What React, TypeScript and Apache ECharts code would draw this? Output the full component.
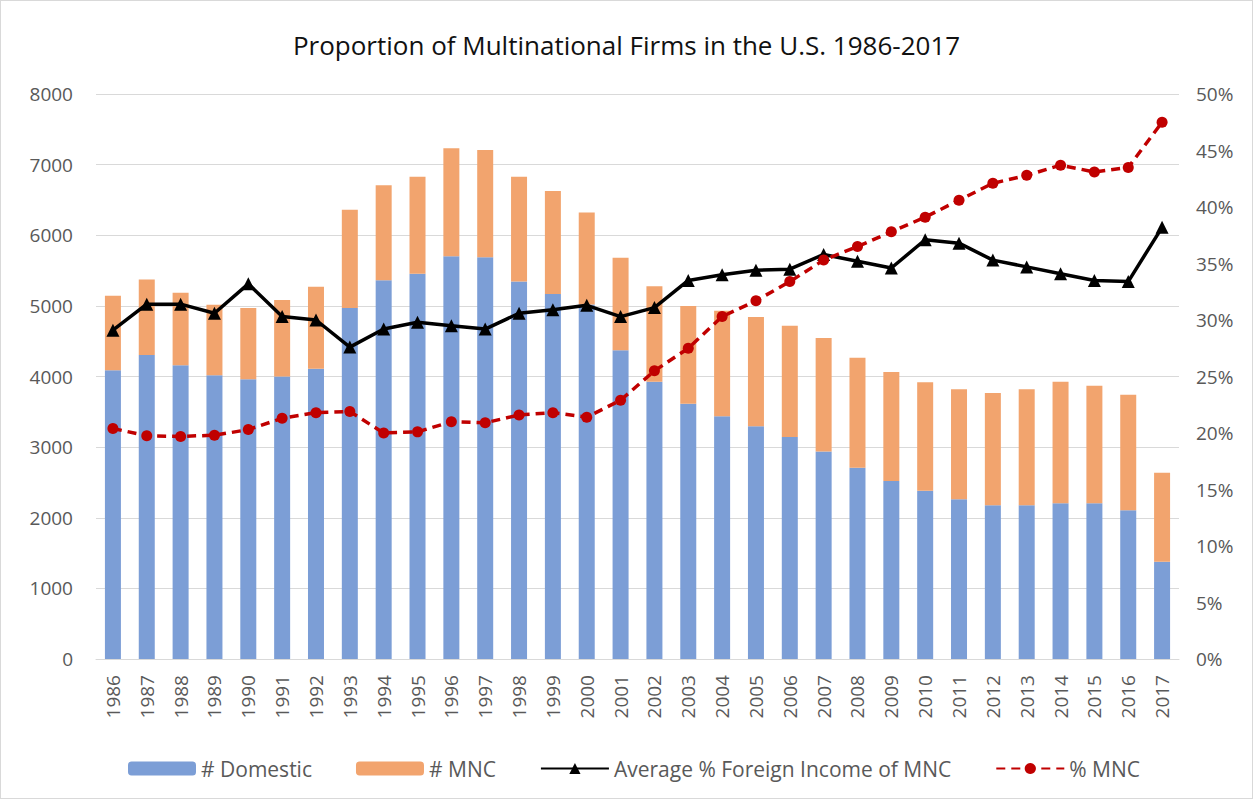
import React, { useEffect, useRef } from "react";
import * as echarts from "echarts";

const years = [
  "1986","1987","1988","1989","1990","1991","1992","1993","1994","1995","1996",
  "1997","1998","1999","2000","2001","2002","2003","2004","2005","2006","2007",
  "2008","2009","2010","2011","2012","2013","2014","2015","2016","2017",
];

const totalFirms = [
  5145, 5375, 5186, 5017, 4970, 5082, 5271, 6361, 6709, 6830, 7231,
  7207, 6827, 6625, 6323, 5680, 5279, 4997, 4932, 4842, 4720, 4546,
  4264, 4062, 3917, 3818, 3766, 3818, 3926, 3869, 3742, 2637,
];

const domestic = [
  4090, 4306, 4160, 4019, 3960, 4000, 4109, 4970, 5364, 5454, 5702,
  5689, 5346, 5167, 5020, 4372, 3926, 3615, 3437, 3296, 3145, 2938,
  2708, 2520, 2383, 2261, 2177, 2177, 2205, 2205, 2106, 1378,
];

const mnc = totalFirms.map((t, i) => t - domestic[i]);

const avgForeignIncome = [
  29.1, 31.4, 31.4, 30.6, 33.2, 30.3, 30.0, 27.6, 29.2, 29.8, 29.5,
  29.2, 30.6, 30.9, 31.3, 30.3, 31.1, 33.5, 34.0, 34.4, 34.5, 35.8,
  35.2, 34.6, 37.1, 36.8, 35.3, 34.7, 34.1, 33.5, 33.4, 38.2,
];

const pctMnc = [
  20.4, 19.75, 19.7, 19.8, 20.3, 21.3, 21.8, 21.9, 20.0, 20.1, 21.0,
  20.9, 21.6, 21.8, 21.4, 22.9, 25.5, 27.5, 30.3, 31.7, 33.4, 35.3,
  36.5, 37.8, 39.1, 40.6, 42.1, 42.8, 43.7, 43.1, 43.5, 47.5,
];

const FONT = "'Open Sans', 'Noto Sans', sans-serif";

export default function App() {
  const ref = useRef<HTMLDivElement>(null);
  useEffect(() => {
    document.body.style.margin = "0";
    if (!ref.current) return;
    const chart = echarts.init(ref.current, undefined, { renderer: "svg" });
    chart.setOption({
      animation: false,
      backgroundColor: "#ffffff",
      textStyle: { fontFamily: FONT },
      title: {
        text: "Proportion of Multinational Firms in the U.S. 1986-2017",
        left: "center",
        top: 26,
        textStyle: { fontFamily: FONT, fontSize: 26, fontWeight: "normal", color: "#111111" },
      },
      legend: {
        top: 752,
        left: 122,
        itemWidth: 68,
        itemHeight: 14,
        itemGap: 44,
        textStyle: { fontFamily: FONT, fontSize: 21, color: "#595959" },
        data: ["# Domestic", "# MNC", "Average % Foreign Income of MNC", "% MNC"],
      },
      grid: { left: 95, right: 73, top: 93, bottom: 139, containLabel: false },
      xAxis: {
        type: "category",
        data: years,
        boundaryGap: true,
        axisLine: { lineStyle: { color: "#d9d9d9", width: 1 } },
        axisTick: { show: false },
        axisLabel: { rotate: 90, margin: 16, fontFamily: FONT, fontSize: 19, color: "#595959" },
      },
      yAxis: [
        {
          type: "value",
          min: 0,
          max: 8000,
          interval: 1000,
          axisLine: { show: false },
          axisTick: { show: false },
          splitLine: { lineStyle: { color: "#d9d9d9", width: 1 } },
          axisLabel: {
            margin: 23,
            formatter: (v: number) => String(v),
            fontFamily: FONT,
            fontSize: 19,
            color: "#595959",
          },
        },
        {
          type: "value",
          min: 0,
          max: 50,
          interval: 5,
          position: "right",
          axisLine: { show: false },
          axisTick: { show: false },
          splitLine: { show: false },
          axisLabel: { margin: 17, formatter: "{value}%", fontFamily: FONT, fontSize: 19, color: "#595959" },
        },
      ],
      series: [
        {
          name: "# Domestic",
          type: "bar",
          stack: "firms",
          data: domestic,
          barWidth: 16,
          itemStyle: { color: "#7c9ed6" },
        },
        {
          name: "# MNC",
          type: "bar",
          stack: "firms",
          data: mnc,
          barWidth: 16,
          itemStyle: { color: "#f2a46e" },
        },
        {
          name: "Average % Foreign Income of MNC",
          type: "line",
          yAxisIndex: 1,
          data: avgForeignIncome,
          symbol: "triangle",
          symbolSize: 13,
          lineStyle: { color: "#000000", width: 3.5 },
          itemStyle: { color: "#000000" },
        },
        {
          name: "% MNC",
          type: "line",
          yAxisIndex: 1,
          data: pctMnc,
          symbol: "circle",
          symbolSize: 11,
          lineStyle: { color: "#c00000", width: 3.5, type: [9, 6] },
          itemStyle: { color: "#c00000" },
        },
      ],
    });
    return () => chart.dispose();
  }, []);
  return (
    <div
      ref={ref}
      style={{ width: 1253, height: 799, boxSizing: "border-box", border: "1px solid #d9d9d9" }}
    />
  );
}
